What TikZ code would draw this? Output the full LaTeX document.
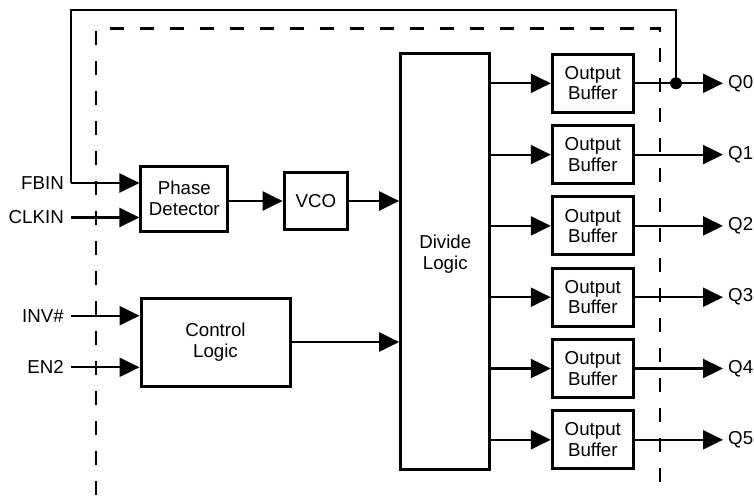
\documentclass[tikz,border=0pt]{standalone}
\usepackage{fontspec}
\setmainfont{Liberation Sans}
\usetikzlibrary{arrows.meta,calc}
\begin{document}
\begin{tikzpicture}[x=1pt,y=-1pt,
  fnt/.style={font=\fontsize{18.7}{20.5}\selectfont},
  blk/.style={draw,line width=3pt,align=center,inner sep=0pt,fnt},
  txt/.style={align=center,inner sep=0pt,fnt},
  arr/.style={line width=2.2pt,-{Triangle[length=20pt,width=19pt]}},
  wire/.style={line width=2.2pt},
  inlab/.style={anchor=east,inner ysep=0pt,inner xsep=7pt,fnt},
  outlab/.style={anchor=west,inner ysep=0pt,inner xsep=5pt,fnt},
  bound/.style={line width=2.3pt,dash pattern=on 14pt off 16pt}]
\useasboundingbox (0,0) rectangle (754,495);
% dashed chip boundary
\draw[bound] (96,495) -- (96,28.5) -- (660,28.5) -- (660,495);
% blocks
\node[blk,minimum width=86.7pt,minimum height=65pt] (pd) at (184.3,198.5) {Phase\\Detector};
\node[blk,minimum width=63.7pt,minimum height=56.6pt] (vco) at (316,201) {VCO};
\node[blk,minimum width=89.3pt,minimum height=415pt] (div) at (445.3,261.5) {};
\node[txt] (divt) at (445.3,254) {Divide\\Logic};
\node[blk,minimum width=149pt,minimum height=88pt] (ctl) at (215.5,342) {Control\\Logic};
\foreach \i/\y in {0/83.3,1/154.6,2/225.9,3/297.2,4/368.5,5/439.8}{
  \node[blk,minimum width=81pt,minimum height=58pt] (b\i) at (592.8,\y) {Output\\Buffer};
  \node[outlab] (q\i) at (723,\y) {Q\i};
  \draw[arr] (b\i.west -| div.east) -- (b\i.west);
  \draw[arr] (b\i.east) -- (q\i.west);
}
% inputs
\node[inlab] (fbin) at (71,183) {FBIN};
\node[inlab] (clkin) at (71,217.5) {CLKIN};
\node[inlab] (inv) at (71,315.7) {INV\#};
\node[inlab] (en2) at (71,367.3) {EN2};
\draw[arr] (clkin.east) -- (clkin.east -| pd.west);
\draw[arr] (inv.east) -- (inv.east -| ctl.west);
\draw[arr] (en2.east) -- (en2.east -| ctl.west);
% internal
\draw[arr] (pd.east |- vco.west) -- (vco.west);
\draw[arr] (vco.east) -- (vco.east -| div.west);
\draw[arr] (ctl.east) -- (ctl.east -| div.west);
% feedback
\coordinate (tap) at (676,0 |- b0.east);
\draw[wire,line join=miter] (tap) -- (676,10) -- (fbin.east |- 0,10) -- (fbin.east);
\draw[arr] (fbin.east) -- (fbin.east -| pd.west);
\fill (tap) circle (6pt);
\end{tikzpicture}
\end{document}
